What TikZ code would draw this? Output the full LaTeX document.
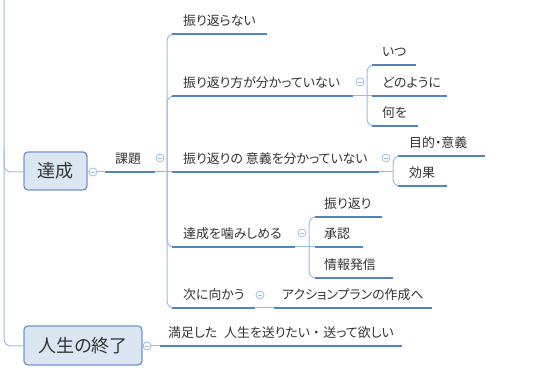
\documentclass[tikz,border=0pt]{standalone}
\usepackage{fontspec}
\setmainfont{Noto Sans CJK JP}[RawFeature=+palt]
\definecolor{ulblue}{HTML}{5284C4}
\definecolor{thinblue}{HTML}{9DBCE2}
\definecolor{boxfill}{HTML}{DCE6F3}
\definecolor{boxline}{HTML}{6E98CD}
\definecolor{txt}{HTML}{333333}
\tikzset{
  ul/.style={draw=ulblue,line width=2.4pt},
  thinl/.style={draw=thinblue,line width=1pt},
  br/.style={draw=thinblue,line width=1pt,rounded corners=7pt},
  lbl/.style={anchor=base west,inner sep=0pt,text=txt,font=\fontsize{12.9}{13}\selectfont},
  topbox/.style={draw=boxline,fill=boxfill,line width=1.3pt,rounded corners=4pt},
  boxtxt/.style={text=txt,inner sep=0pt,font=\fontsize{18}{18}\selectfont},
  clps/.style={circle,draw=thinblue,fill=white,line width=0.8pt,minimum size=8pt,inner sep=0pt,
    path picture={\draw[thinblue,line width=0.7pt] ([xshift=-2pt]path picture bounding box.center) -- ([xshift=2pt]path picture bounding box.center);}}
}
\begin{document}
\begin{tikzpicture}[x=1pt,y=-1pt]
\useasboundingbox (0,0) rectangle (542,371);
% main boxes
\draw[topbox] (24,152) rectangle (87,190);
\node[boxtxt] (tasei) at (55.5,171) {達成};
\coordinate (taseiW) at (24,172);
\coordinate (taseiE) at (87,172);
\draw[topbox] (24,326) rectangle (142,365);
\node[boxtxt] (jinsei) at (83,345.5) {人生の終了};
\coordinate (jinseiW) at (24,346);
\coordinate (jinseiE) at (142,346);
% left trunk
\coordinate (top) at (4,0);
\coordinate (mid) at (4,150);
\draw[br] (top) -- (4,172) -- (taseiW);
\draw[br] (mid) -- (4,346) -- (jinseiW);
% tasei -> kadai
\node[clps] (c0) at (93,172) {};
\draw[thinl] (taseiE) -- (c0);
\coordinate (k0) at (105,172);
\coordinate (k1) at (155,172);
\draw[thinl] (c0) -- (k0);
\draw[ul] (k0) -- (k1);
\node[lbl] (kadai) at (115,164) {課題};
\node[clps] (ck) at (160,158) {};
\coordinate (kj) at (167,172);
\draw[thinl] (k1) -- (kj);
% children of kadai
\coordinate (n1s) at (172,34);  \coordinate (n1e) at (267,34);
\coordinate (n2s) at (172,96);  \coordinate (n2e) at (353,96);
\coordinate (n3s) at (172,172); \coordinate (n3e) at (379,172);
\coordinate (n4s) at (172,247); \coordinate (n4e) at (295,247);
\coordinate (n5s) at (172,308); \coordinate (n5e) at (255,308);
\draw[br] (kj) -- (167,34) -- (n1s);
\draw[br] (kj) -- (167,96) -- (n2s);
\draw[thinl] (kj) -- (n3s);
\draw[br] (kj) -- (167,247) -- (n4s);
\draw[br] (kj) -- (167,308) -- (n5s);
\draw[ul] (n1s) -- (n1e);
\draw[ul] (n2s) -- (n2e);
\draw[ul] (n3s) -- (n3e);
\draw[ul] (n4s) -- (n4e);
\draw[ul] (n5s) -- (n5e);
\node[lbl] (n1) at (183,26) {振り返らない};
\node[lbl] (n2) at (183,88) {振り返り方が分かっていない};
\node[lbl] (n3) at (183,164) {振り返りの\hspace{3pt}意義を分かっていない};
\node[lbl] (n4) at (183,239) {達成を噛みしめる};
\node[lbl] (n5) at (183,300) {次に向かう};
% n2 children
\node[clps] (c2) at (360,82) {};
\coordinate (j2) at (367,96);
\draw[thinl] (n2e) -- (j2);
\coordinate (n2as) at (372,65);  \coordinate (n2ae) at (416,65);
\coordinate (n2bs) at (372,96);  \coordinate (n2be) at (447,96);
\coordinate (n2cs) at (372,126); \coordinate (n2ce) at (418,126);
\draw[br] (j2) -- (367,65) -- (n2as);
\draw[thinl] (j2) -- (n2bs);
\draw[br] (j2) -- (367,126) -- (n2cs);
\draw[ul] (n2as) -- (n2ae);
\draw[ul] (n2bs) -- (n2be);
\draw[ul] (n2cs) -- (n2ce);
\node[lbl] (n2a) at (382,57) {いつ};
\node[lbl] (n2b) at (382,88) {どのように};
\node[lbl] (n2c) at (382,118) {何を};
% n3 children
\node[clps] (c3) at (386,158) {};
\coordinate (j3) at (393,172);
\draw[thinl] (n3e) -- (j3);
\coordinate (n3as) at (398,156); \coordinate (n3ae) at (485,156);
\coordinate (n3bs) at (398,186); \coordinate (n3be) at (447,186);
\draw[br] (j3) -- (393,156) -- (n3as);
\draw[br] (j3) -- (393,186) -- (n3bs);
\draw[ul] (n3as) -- (n3ae);
\draw[ul] (n3bs) -- (n3be);
\node[lbl] (n3a) at (409,148) {目的・意義};
\node[lbl] (n3b) at (409,178) {効果};
% n4 children
\node[clps] (c4) at (302,233) {};
\coordinate (j4) at (309,247);
\draw[thinl] (n4e) -- (j4);
\coordinate (n4as) at (315,217); \coordinate (n4ae) at (382,217);
\coordinate (n4bs) at (315,247); \coordinate (n4be) at (363,247);
\coordinate (n4cs) at (315,278); \coordinate (n4ce) at (393,278);
\draw[br] (j4) -- (309,217) -- (n4as);
\draw[thinl] (j4) -- (n4bs);
\draw[br] (j4) -- (309,278) -- (n4cs);
\draw[ul] (n4as) -- (n4ae);
\draw[ul] (n4bs) -- (n4be);
\draw[ul] (n4cs) -- (n4ce);
\node[lbl] (n4a) at (324,209) {振り返り};
\node[lbl] (n4b) at (324,239) {承認};
\node[lbl] (n4c) at (324,270) {情報発信};
% n5 child
\node[clps] (c5) at (260,295) {};
\coordinate (n5as) at (274,308); \coordinate (n5ae) at (432,308);
\draw[thinl] (n5e) -- (n5as);
\draw[ul] (n5as) -- (n5ae);
\node[lbl] (n5a) at (282,300) {アクションプランの作成へ};
% jinsei child
\node[clps] (c6) at (147,346) {};
\draw[thinl] (jinseiE) -- (c6);
\coordinate (m0) at (160,346); \coordinate (m1) at (402,346);
\draw[thinl] (c6) -- (m0);
\draw[ul] (m0) -- (m1);
\node[lbl] (m) at (168,338) {満足した\hspace{7pt}人生を送りたい\hspace{3pt}・\hspace{4pt}送って欲しい};
\end{tikzpicture}
\end{document}
